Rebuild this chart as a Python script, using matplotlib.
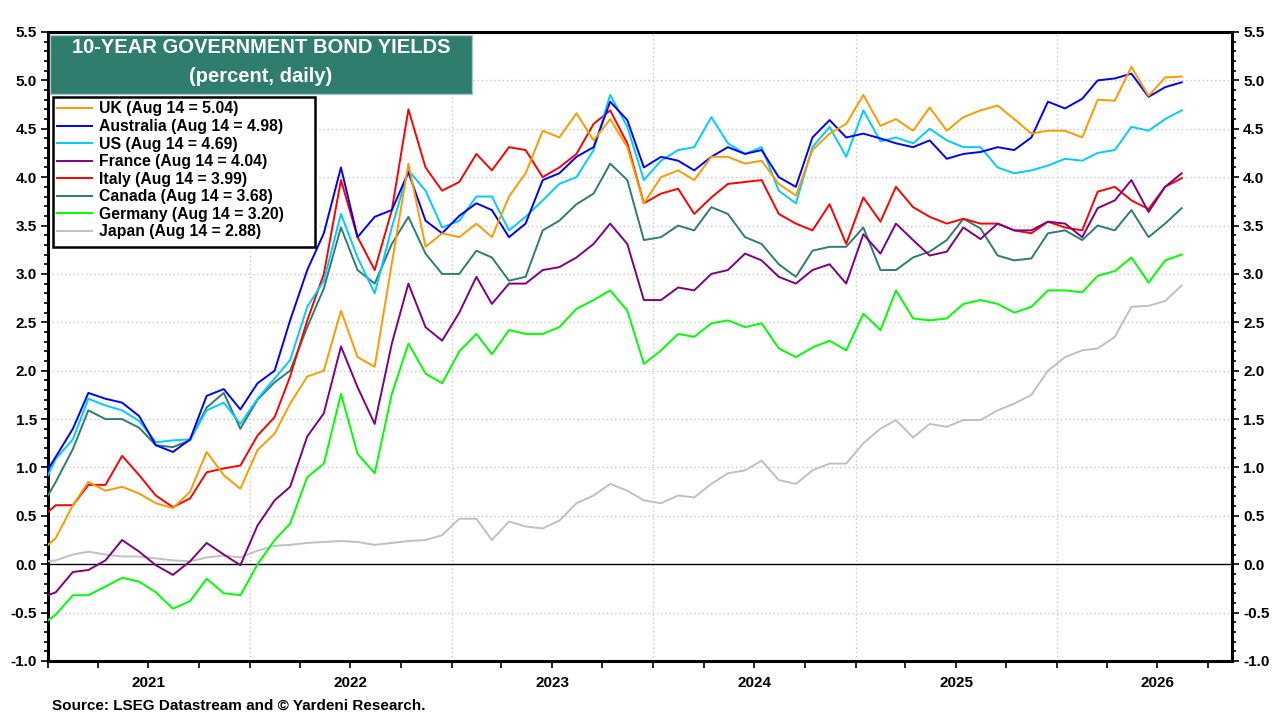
import pandas as pd
import matplotlib
matplotlib.use("Agg")
import matplotlib.pyplot as plt
from matplotlib.patches import Rectangle
from matplotlib.ticker import MultipleLocator, FixedLocator, NullFormatter

plt.rcParams["font.family"] = ["Liberation Sans", "DejaVu Sans"]
plt.rcParams["font.weight"] = "bold"

# sampling grid: first day, mid-month readings, last obs (Aug 14)
mid_months = pd.date_range("2021-01-15", periods=67, freq=pd.DateOffset(months=1))
dates = [pd.Timestamp("2021-01-01")] + list(mid_months) + [pd.Timestamp("2026-08-14")]

uk = [0.20, 0.27, 0.61, 0.85, 0.76, 0.80, 0.73, 0.63, 0.58, 0.75, 1.16, 0.92, 0.78,
      1.18, 1.35, 1.66, 1.94, 2.00, 2.62, 2.14, 2.04, 3.11, 4.14, 3.28, 3.42,
      3.38, 3.52, 3.38, 3.80, 4.04, 4.48, 4.41, 4.66, 4.38, 4.60, 4.31, 3.73,
      4.00, 4.07, 3.97, 4.21, 4.21, 4.14, 4.17, 3.93, 3.81, 4.28, 4.45, 4.55,
      4.85, 4.53, 4.60, 4.48, 4.72, 4.48, 4.62, 4.69, 4.74, 4.60, 4.45, 4.48,
      4.48, 4.41, 4.80, 4.79, 5.14, 4.84, 5.03, 5.04]
australia = [0.98, 1.11, 1.40, 1.77, 1.71, 1.67, 1.53, 1.23, 1.16, 1.29, 1.74, 1.81, 1.60,
             1.87, 2.00, 2.52, 3.04, 3.42, 4.10, 3.38, 3.59, 3.66, 4.05, 3.55, 3.42,
             3.60, 3.73, 3.66, 3.38, 3.52, 3.97, 4.04, 4.21, 4.31, 4.78, 4.59, 4.10,
             4.21, 4.17, 4.07, 4.21, 4.31, 4.24, 4.28, 4.00, 3.90, 4.41, 4.59, 4.41,
             4.45, 4.40, 4.35, 4.31, 4.38, 4.19, 4.24, 4.26, 4.31, 4.28, 4.41, 4.78,
             4.71, 4.81, 5.00, 5.02, 5.07, 4.83, 4.93, 4.98]
us = [0.92, 1.09, 1.29, 1.71, 1.64, 1.59, 1.48, 1.26, 1.28, 1.29, 1.59, 1.67, 1.45,
      1.71, 1.92, 2.11, 2.66, 2.93, 3.62, 3.17, 2.80, 3.48, 4.07, 3.86, 3.48,
      3.55, 3.80, 3.80, 3.45, 3.59, 3.76, 3.93, 4.00, 4.28, 4.85, 4.52, 3.97,
      4.17, 4.28, 4.31, 4.62, 4.35, 4.24, 4.31, 3.86, 3.73, 4.31, 4.52, 4.21,
      4.69, 4.37, 4.41, 4.35, 4.50, 4.38, 4.31, 4.31, 4.10, 4.04, 4.07, 4.12,
      4.19, 4.17, 4.25, 4.28, 4.52, 4.48, 4.60, 4.69]
france = [-0.32, -0.29, -0.08, -0.06, 0.04, 0.25, 0.13, -0.01, -0.11, 0.03, 0.22, 0.10, -0.01,
          0.40, 0.66, 0.80, 1.32, 1.56, 2.25, 1.83, 1.45, 2.28, 2.90, 2.45, 2.31,
          2.60, 2.97, 2.69, 2.90, 2.90, 3.04, 3.07, 3.17, 3.31, 3.52, 3.31, 2.73,
          2.73, 2.86, 2.83, 3.00, 3.04, 3.21, 3.14, 2.97, 2.90, 3.04, 3.10, 2.90,
          3.41, 3.21, 3.52, 3.35, 3.19, 3.23, 3.48, 3.36, 3.52, 3.45, 3.45, 3.54,
          3.52, 3.38, 3.68, 3.76, 3.97, 3.64, 3.90, 4.04]
italy = [0.54, 0.61, 0.61, 0.82, 0.82, 1.12, 0.92, 0.71, 0.59, 0.68, 0.95, 0.99, 1.02,
         1.33, 1.52, 1.94, 2.52, 3.00, 3.97, 3.38, 3.04, 3.66, 4.70, 4.10, 3.86,
         3.95, 4.24, 4.07, 4.31, 4.28, 4.00, 4.10, 4.24, 4.55, 4.69, 4.35, 3.73,
         3.83, 3.88, 3.62, 3.79, 3.93, 3.95, 3.97, 3.62, 3.52, 3.45, 3.72, 3.31,
         3.79, 3.54, 3.90, 3.69, 3.59, 3.52, 3.57, 3.52, 3.52, 3.45, 3.42, 3.54,
         3.48, 3.45, 3.85, 3.90, 3.76, 3.67, 3.90, 3.99]
canada = [0.71, 0.85, 1.19, 1.59, 1.50, 1.50, 1.41, 1.23, 1.21, 1.28, 1.62, 1.77, 1.40,
          1.70, 1.88, 2.00, 2.45, 2.85, 3.48, 3.04, 2.90, 3.31, 3.59, 3.21, 3.00,
          3.00, 3.24, 3.17, 2.93, 2.97, 3.45, 3.55, 3.72, 3.83, 4.14, 3.97, 3.35,
          3.38, 3.50, 3.45, 3.69, 3.62, 3.38, 3.31, 3.10, 2.97, 3.24, 3.28, 3.28,
          3.48, 3.04, 3.04, 3.17, 3.23, 3.35, 3.57, 3.47, 3.19, 3.14, 3.16, 3.42,
          3.45, 3.35, 3.50, 3.45, 3.66, 3.38, 3.52, 3.68]
germany = [-0.58, -0.52, -0.32, -0.32, -0.23, -0.14, -0.18, -0.29, -0.46, -0.38, -0.15, -0.30, -0.32,
           0.00, 0.25, 0.42, 0.90, 1.04, 1.76, 1.14, 0.94, 1.76, 2.28, 1.97, 1.87,
           2.20, 2.38, 2.17, 2.42, 2.38, 2.38, 2.45, 2.64, 2.73, 2.83, 2.62, 2.07,
           2.21, 2.38, 2.35, 2.49, 2.52, 2.45, 2.49, 2.23, 2.14, 2.24, 2.31, 2.21,
           2.59, 2.42, 2.83, 2.54, 2.52, 2.54, 2.69, 2.73, 2.69, 2.60, 2.66, 2.83,
           2.83, 2.81, 2.98, 3.03, 3.17, 2.91, 3.14, 3.20]
japan = [0.03, 0.04, 0.10, 0.13, 0.10, 0.08, 0.08, 0.06, 0.04, 0.03, 0.07, 0.09, 0.07,
         0.14, 0.19, 0.20, 0.22, 0.23, 0.24, 0.23, 0.20, 0.22, 0.24, 0.25, 0.30,
         0.47, 0.47, 0.25, 0.44, 0.39, 0.37, 0.45, 0.63, 0.71, 0.83, 0.76, 0.66,
         0.63, 0.71, 0.69, 0.83, 0.94, 0.97, 1.07, 0.87, 0.83, 0.97, 1.04, 1.04,
         1.25, 1.40, 1.49, 1.31, 1.45, 1.42, 1.49, 1.49, 1.59, 1.66, 1.75, 2.00,
         2.14, 2.21, 2.23, 2.35, 2.66, 2.67, 2.72, 2.88]

names = ["UK", "Australia", "US", "France", "Italy", "Canada", "Germany", "Japan"]
series = [uk, australia, us, france, italy, canada, germany, japan]
colors = ["#FF9900", "#0000FF", "#00CCFF", "#800080", "#FF0000", "#2E7D6E", "#00FF00", "#C0C0C0"]
years = [2021, 2022, 2023, 2024, 2025, 2026]

fig = plt.figure(figsize=(12.8, 7.2), dpi=100)
ax = fig.add_axes([48 / 1280, 1 - 661 / 720, 1184 / 1280, 629 / 720])

# draw back to front so UK ends on top
handles = {}
for name, vals, col in reversed(list(zip(names, series, colors))):
    (ln,) = ax.plot(dates, vals, color=col, lw=1.4, zorder=3)
    handles[name] = ln

ax.set_xlim(pd.Timestamp("2021-01-01"), pd.Timestamp("2026-11-13"))
ax.set_ylim(-1.0, 5.5)

# grid
for y in [v * 0.5 for v in range(-1, 11)]:
    if y != 0:
        ax.axhline(y, color="#C8C8C8", lw=1, ls=(0, (1, 2)), zorder=1)
for yr in years[1:]:
    ax.axvline(pd.Timestamp(f"{yr}-01-01"), color="#C8C8C8", lw=1, ls=(0, (1, 2)), zorder=1)
ax.axhline(0, color="black", lw=1, zorder=2)

# axes / ticks
for sp in ax.spines.values():
    sp.set_linewidth(2.2)
ax.yaxis.set_major_locator(MultipleLocator(0.5))
ax.yaxis.set_minor_locator(MultipleLocator(0.1))
ax.yaxis.set_major_formatter(plt.FormatStrFormatter("%.1f"))
ax.tick_params(axis="y", which="both", direction="out", left=True, right=True,
               labelleft=True, labelright=True, labelsize=11, width=1.2)
ax.tick_params(axis="y", which="major", length=5, pad=3)
ax.tick_params(axis="y", which="minor", length=3)

quarters = pd.date_range("2021-01-01", "2026-10-01", freq="QS")
mids = [pd.Timestamp(f"{yr}-07-02") for yr in years]
ax.xaxis.set_major_locator(FixedLocator(matplotlib.dates.date2num(quarters)))
ax.xaxis.set_major_formatter(NullFormatter())
ax.xaxis.set_minor_locator(FixedLocator(matplotlib.dates.date2num(mids)))
ax.set_xticklabels([str(y) for y in years], minor=True)
ax.tick_params(axis="x", which="major", direction="out", length=5, width=1.2)
ax.tick_params(axis="x", which="minor", length=0, pad=11, labelsize=11)

# title box
ax.add_patch(Rectangle((0.0017, 0.901), 0.356, 0.094, transform=ax.transAxes,
                       facecolor="#2F7D6F", edgecolor="#A9C9C2", lw=1, zorder=5))
ax.text(0.18, 0.9746, "10-YEAR GOVERNMENT BOND YIELDS", transform=ax.transAxes,
        ha="center", va="center", color="white", fontsize=14.5, fontweight="bold", zorder=6)
ax.text(0.18, 0.930, "(percent, daily)", transform=ax.transAxes,
        ha="center", va="center", color="white", fontsize=14.5, fontweight="bold", zorder=6)

# legend: own frame, a bit wider than the text like the original
ax.add_patch(Rectangle((0.0042, 0.658), 0.2213, 0.2387, transform=ax.transAxes,
                       facecolor="white", edgecolor="black", lw=1.8, zorder=5))
latest = [uk[-1], australia[-1], us[-1], france[-1], italy[-1], canada[-1], germany[-1], japan[-1]]
labels = [f"{n} (Aug 14 = {v:.2f})" for n, v in zip(names, latest)]
leg = ax.legend([handles[n] for n in names], labels, loc="upper left",
                bbox_to_anchor=(0.004, 0.897), fontsize=11.3, frameon=False,
                handlelength=2.2, handletextpad=0.45,
                labelspacing=0.16, borderpad=0.3, borderaxespad=0)
leg.set_zorder(6)
for t in leg.get_texts():
    t.set_fontweight("bold")

fig.text(52 / 1280, 1 - 706 / 720, "Source: LSEG Datastream and \u00a9 Yardeni Research.",
         fontsize=11, fontweight="bold", va="center", ha="left")

fig.savefig("out.png", dpi=100)
